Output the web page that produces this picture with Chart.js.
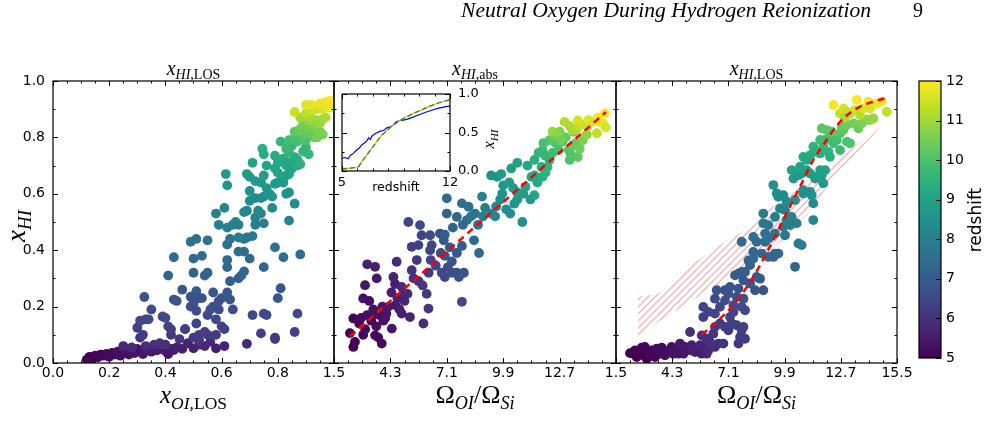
<!DOCTYPE html>
<html>
<head>
<meta charset="utf-8">
<script src="https://cdn.jsdelivr.net/npm/chart.js@4.4.0/dist/chart.umd.min.js"></script>
<style>
  body { margin: 0; background: #fff; }
  #wrap { position: relative; width: 1000px; height: 440px; }
  #wrap canvas { position: absolute; left: 0; top: 0; }
</style>
</head>
<body>
<div id="wrap">
  <canvas id="p1" width="1000" height="440"></canvas>
  <canvas id="p2" width="1000" height="440"></canvas>
  <canvas id="p3" width="1000" height="440"></canvas>
  <canvas id="inset" width="1000" height="440"></canvas>
  <canvas id="cbar" width="1000" height="440"></canvas>
</div>
<script>
// ---- data ----
// each point: [x, x_HI, redshift]
const losPts = [
  [0.12,0.012,5.0],[0.13,0.022,5.0],[0.14,0.016,5.0],[0.15,0.026,5.1],[0.16,0.02,5.1],[0.17,0.03,5.1],[0.18,0.026,5.1],[0.19,0.032,5.2],[0.20,0.022,5.2],[0.21,0.036,5.2],[0.22,0.03,5.2],[0.23,0.04,5.3],[0.24,0.026,5.3],[0.25,0.036,5.3],[0.26,0.045,5.4],[0.27,0.03,5.3],[0.28,0.04,5.4],[0.29,0.035,5.4],[0.30,0.05,5.5],[0.31,0.04,5.4],[0.32,0.032,5.4],[0.33,0.045,5.5],[0.34,0.05,5.5],[0.35,0.04,5.5],[0.36,0.055,5.6],[0.37,0.045,5.5],[0.38,0.05,5.6],[0.40,0.042,5.5],[0.41,0.032,5.4],[0.42,0.05,5.6],[0.43,0.046,5.5],[0.44,0.055,5.6],[0.46,0.05,5.6],[0.48,0.07,5.7],[0.50,0.052,5.6],[0.52,0.065,5.7],[0.54,0.06,5.7],[0.56,0.075,5.8],[0.58,0.052,5.6],[0.61,0.06,5.7],[0.69,0.068,5.8],
  [0.25,0.06,5.8],[0.28,0.055,5.8],[0.31,0.09,6.0],[0.33,0.06,5.9],[0.36,0.065,5.9],[0.38,0.07,6.0],[0.40,0.065,6.0],[0.42,0.10,6.1],[0.45,0.085,6.1],[0.47,0.12,6.2],[0.50,0.09,6.1],[0.52,0.08,6.1],[0.55,0.10,6.2],[0.58,0.10,6.2],
  [0.30,0.125,6.3],[0.31,0.15,6.4],[0.33,0.155,6.4],[0.34,0.155,6.5],[0.35,0.19,6.6],[0.325,0.234,6.8],[0.32,0.10,6.2],
  [0.39,0.165,6.5],[0.40,0.16,6.5],[0.41,0.13,6.4],[0.42,0.12,6.3],[0.43,0.225,6.8],[0.44,0.22,6.8],[0.41,0.31,7.2],
  [0.46,0.26,6.9],[0.47,0.12,6.3],[0.49,0.20,6.7],[0.49,0.235,6.8],[0.50,0.21,6.7],[0.51,0.255,6.9],[0.52,0.23,6.8],[0.53,0.23,6.8],[0.51,0.185,6.6],[0.51,0.14,6.4],[0.52,0.10,6.2],
  [0.54,0.11,6.3],[0.55,0.17,6.5],[0.56,0.19,6.6],[0.57,0.20,6.7],[0.57,0.25,6.9],[0.58,0.155,6.5],[0.59,0.22,6.7],[0.60,0.23,6.8],[0.60,0.13,6.4],[0.61,0.12,6.3],[0.59,0.19,6.6],
  [0.62,0.25,6.9],[0.63,0.225,6.8],[0.64,0.19,6.6],
  [0.71,0.17,6.5],[0.74,0.105,6.3],[0.75,0.175,6.6],[0.76,0.17,6.5],[0.79,0.085,6.2],[0.79,0.09,6.2],[0.80,0.23,6.8],[0.81,0.265,6.9],[0.86,0.11,6.3],[0.87,0.175,6.5],
  [0.43,0.375,7.5],[0.50,0.37,7.4],[0.49,0.43,7.7],[0.51,0.44,7.7],[0.50,0.32,7.2],[0.53,0.38,7.5],[0.54,0.31,7.2],[0.55,0.32,7.2],[0.55,0.435,7.7],[0.63,0.29,7.1],[0.62,0.34,7.3],[0.62,0.365,7.4],[0.62,0.42,7.6],[0.63,0.44,7.7],[0.66,0.30,7.1],[0.67,0.31,7.2],[0.68,0.325,7.3],[0.66,0.395,7.5],[0.68,0.395,7.5],[0.70,0.37,7.4],[0.68,0.44,7.7],[0.69,0.445,7.7],[0.71,0.45,7.8],[0.75,0.34,7.3],[0.79,0.41,7.6],[0.82,0.375,7.5],[0.88,0.385,7.5],
  [0.58,0.53,8.1],[0.59,0.49,8.0],[0.61,0.55,8.2],[0.62,0.48,8.0],[0.64,0.49,8.0],[0.65,0.50,8.1],[0.66,0.49,8.0],[0.66,0.445,7.9],[0.68,0.535,8.2],[0.69,0.54,8.2],[0.70,0.575,8.3],[0.72,0.515,8.1],[0.72,0.49,8.0],[0.73,0.54,8.2],[0.74,0.53,8.2],[0.75,0.495,8.0],[0.72,0.585,8.3],[0.74,0.585,8.4],[0.75,0.59,8.4],[0.78,0.55,8.3],[0.83,0.60,8.5],[0.84,0.605,8.5],[0.86,0.565,8.4],[0.84,0.505,8.2],[0.70,0.61,8.5],
  [0.615,0.67,8.8],[0.62,0.63,8.6],[0.69,0.67,8.8],[0.71,0.71,9.0],[0.70,0.66,8.8],[0.72,0.645,8.8],[0.74,0.64,8.7],[0.75,0.665,8.9],[0.76,0.62,8.7],[0.77,0.60,8.6],[0.78,0.59,8.6],[0.79,0.635,8.8],[0.80,0.64,8.8],[0.81,0.645,8.8],[0.82,0.64,8.8],[0.83,0.665,9.0],[0.84,0.67,9.0],[0.80,0.675,9.0],[0.79,0.69,9.1],[0.75,0.74,9.3],[0.76,0.70,9.1],[0.745,0.76,9.4],[0.79,0.735,9.3],[0.80,0.71,9.2],[0.82,0.725,9.3],[0.83,0.70,9.2],[0.84,0.71,9.2],[0.85,0.69,9.1],[0.86,0.73,9.4],[0.87,0.72,9.3],[0.87,0.70,9.3],[0.88,0.705,9.4],[0.81,0.785,9.6],[0.84,0.745,9.5],[0.85,0.77,9.6],[0.91,0.74,9.6],[0.90,0.765,9.7],[0.89,0.75,9.6],
  [0.83,0.76,9.7],[0.84,0.79,9.8],[0.86,0.80,10.0],[0.87,0.785,9.9],[0.89,0.80,10.1],[0.90,0.79,10.0],[0.86,0.82,10.2],[0.88,0.83,10.4],[0.89,0.845,10.5],[0.90,0.815,10.3],[0.91,0.83,10.5],[0.92,0.82,10.4],[0.93,0.80,10.3],[0.94,0.80,10.5],[0.95,0.82,10.6],[0.96,0.81,10.6],[0.93,0.84,10.7],[0.94,0.86,10.8],[0.95,0.85,10.9],[0.96,0.865,11.0],[0.97,0.87,11.1],[0.91,0.86,10.9],[0.92,0.87,11.0],[0.88,0.87,11.0],[0.90,0.885,11.3],[0.92,0.895,11.4],[0.94,0.90,11.5],[0.96,0.90,11.6],[0.97,0.91,11.7],[0.98,0.92,11.9],[0.985,0.93,12.0],[0.97,0.925,11.9],[0.95,0.92,11.8],[0.92,0.915,11.8],[0.90,0.915,11.7],[0.86,0.89,11.4],[0.985,0.905,11.8]
];

const absPts = [
  [2.46,0.057,5.0],[2.54,0.075,5.0],[2.29,0.106,5.0],[2.46,0.158,5.1],[2.75,0.14,5.1],[2.85,0.16,5.2],[2.95,0.10,5.1],[2.95,0.229,5.3],[3.04,0.276,5.4],[3.05,0.12,5.2],[3.15,0.17,5.3],[3.15,0.35,5.6],[3.25,0.22,5.3],[3.35,0.15,5.2],[3.45,0.19,5.3],[3.54,0.341,5.6],[3.62,0.30,5.5],[3.54,0.098,5.2],[3.55,0.175,5.3],[3.6,0.13,5.2],[3.7,0.09,5.2],[3.75,0.17,5.3],[3.87,0.069,5.2],[3.9,0.20,5.4],[3.95,0.15,5.3],[4.05,0.16,5.4],[4.1,0.175,5.4],[4.2,0.20,5.5],[4.37,0.122,5.4],[4.35,0.25,5.6],[4.45,0.305,5.7],[4.53,0.28,5.6],[4.55,0.205,5.5],[4.61,0.359,5.8],[4.65,0.23,5.6],[4.75,0.19,5.6],[4.86,0.175,5.6],[4.86,0.27,5.8],[4.95,0.246,5.8],[5.0,0.22,5.7],[5.15,0.245,5.8],[5.27,0.163,5.7],[5.36,0.329,6.0],[5.45,0.30,6.0],[5.61,0.365,6.1],[5.7,0.29,6.0],[5.94,0.14,5.9],[6.19,0.193,6.1],
  [5.19,0.50,6.4],[5.77,0.489,6.5],[5.36,0.412,6.2],[5.69,0.418,6.3],[5.85,0.453,6.4],[6.27,0.453,6.6],[6.35,0.418,6.5],[6.27,0.40,6.4],[6.76,0.459,6.7],[6.55,0.345,6.4],[6.3,0.365,6.4],[6.2,0.32,6.2],[5.9,0.275,6.1],[6.1,0.245,6.1],[6.85,0.32,6.5],[7.0,0.305,6.5],[7.15,0.34,6.6],[7.35,0.32,6.6],[6.8,0.39,6.6],[7.0,0.38,6.7],[7.35,0.36,6.8],[7.6,0.39,6.9],[7.85,0.415,7.0],[7.6,0.32,6.7],[7.7,0.305,6.7],[7.95,0.32,6.8],[7.85,0.217,6.5],[6.95,0.435,6.9],[7.25,0.41,6.9],[7.0,0.455,7.0],[7.10,0.53,7.2],[7.10,0.584,7.4],[7.60,0.518,7.3],[7.85,0.566,7.5],[8.10,0.507,7.4],[8.18,0.554,7.6],[8.45,0.435,7.4],[8.7,0.39,7.4],[8.3,0.52,7.6],[8.5,0.53,7.7],[8.65,0.49,7.7],[8.9,0.52,7.9],[9.0,0.55,8.0],[8.85,0.59,8.1],[7.4,0.48,7.2],[7.9,0.49,7.3],
  [9.3,0.53,8.1],[9.5,0.52,8.2],[9.55,0.555,8.3],[9.75,0.58,8.4],[9.85,0.60,8.5],[9.9,0.63,8.6],[9.6,0.66,8.6],[10.05,0.545,8.4],[10.25,0.53,8.4],[10.45,0.565,8.6],[10.6,0.58,8.7],[10.85,0.50,8.5],[10.4,0.62,8.7],[10.6,0.605,8.8],[10.9,0.60,8.9],[11.0,0.625,9.0],[11.25,0.58,8.9],[11.45,0.595,9.1],[11.3,0.66,9.2],[11.45,0.665,9.3],[11.6,0.64,9.2],[11.85,0.66,9.4],[12.0,0.675,9.5],[12.1,0.695,9.6],[11.8,0.695,9.4],[9.3,0.665,8.5],[9.8,0.67,8.7],[10.3,0.69,8.9],[10.6,0.71,9.0],[11.1,0.70,9.2],[10.2,0.64,8.7],
  [11.45,0.72,9.4],[11.65,0.745,9.6],[11.85,0.755,9.7],[12.0,0.735,9.6],[12.2,0.72,9.5],[12.35,0.745,9.8],[12.5,0.78,10.0],[12.65,0.755,9.9],[12.85,0.785,10.1],[13.0,0.80,10.3],[13.15,0.755,10.1],[13.35,0.77,10.3],[13.5,0.78,10.3],[13.6,0.73,10.2],[13.7,0.76,10.4],[13.85,0.79,10.6],[14.05,0.81,10.8],[13.2,0.72,10.0],[13.25,0.74,10.1],[12.2,0.79,10.2],[12.45,0.81,10.4],[11.9,0.78,9.9],[12.7,0.82,10.5],[13.4,0.82,10.6],
  [12.35,0.82,10.9],[12.6,0.815,10.8],[12.95,0.855,11.2],[13.2,0.84,11.1],[13.35,0.825,11.0],[13.55,0.83,11.2],[13.8,0.845,11.4],[14.1,0.84,11.4],[14.13,0.862,11.7],[14.3,0.855,11.6],[14.55,0.815,11.3],[14.7,0.855,11.8],[14.85,0.85,11.8],[15.0,0.835,11.6],[14.95,0.885,12.0],[14.6,0.87,12.0],[13.6,0.86,11.6],[12.75,0.79,10.5]
];

const los2Pts = [
  [2.20,0.035,5.0],[2.36,0.033,5.0],[2.45,0.045,5.0],[2.53,0.021,5.0],[2.70,0.039,5.0],[2.78,0.054,5.1],[2.86,0.027,5.0],[2.94,0.057,5.1],[3.03,0.015,5.0],[3.19,0.033,5.1],[3.28,0.045,5.1],[3.36,0.033,5.1],[3.44,0.021,5.1],[3.53,0.051,5.2],[3.69,0.033,5.2],[3.78,0.054,5.2],[3.86,0.045,5.2],[3.94,0.027,5.2],[4.11,0.039,5.3],[4.19,0.045,5.3],[4.27,0.057,5.3],[4.36,0.033,5.3],[4.52,0.045,5.4],[4.61,0.033,5.4],[4.69,0.051,5.4],[4.69,0.069,5.5],[4.86,0.033,5.4],[4.94,0.057,5.5],[5.02,0.051,5.5],[5.19,0.045,5.5],[5.27,0.063,5.6],[5.35,0.054,5.6],[5.44,0.039,5.6],[5.60,0.051,5.6],[5.69,0.063,5.7],[5.77,0.033,5.6],[5.93,0.057,5.7],[6.02,0.033,5.7],[6.10,0.045,5.8],[6.27,0.063,5.8],[6.43,0.057,5.9],[6.60,0.069,5.9],[5.19,0.11,6.0],
  [5.77,0.098,6.0],[6.02,0.086,6.0],[6.35,0.104,6.1],[6.18,0.075,6.0],[6.43,0.128,6.2],[6.68,0.14,6.2],[6.93,0.128,6.2],[7.10,0.116,6.2],[7.18,0.163,6.4],[7.35,0.181,6.4],[7.26,0.14,6.3],[7.51,0.134,6.3],[7.76,0.116,6.3],[7.85,0.128,6.3],[7.93,0.086,6.2],[7.60,0.069,6.1],[6.85,0.069,6.0],[7.68,0.092,6.2],[5.85,0.199,6.4],[5.85,0.163,6.3],[6.10,0.181,6.4],[6.43,0.175,6.4],[6.43,0.228,6.6],[6.68,0.199,6.5],[6.93,0.222,6.6],[6.93,0.258,6.7],[7.18,0.27,6.8],[7.10,0.246,6.7],[7.51,0.234,6.7],[7.85,0.228,6.7],[7.76,0.199,6.6],[7.93,0.187,6.5],[7.35,0.205,6.6],[7.60,0.264,6.8],[6.52,0.258,6.7],
  [7.43,0.311,7.0],[7.60,0.317,7.0],[7.76,0.323,7.0],[7.93,0.323,7.1],[7.85,0.293,6.9],[8.18,0.282,6.9],[8.43,0.258,6.8],[8.84,0.258,6.8],[8.68,0.299,7.0],[8.51,0.305,7.0],[8.18,0.347,7.2],[8.10,0.364,7.2],[7.76,0.43,7.5],[8.34,0.394,7.3],[8.34,0.37,7.3],[8.76,0.388,7.3],[9.09,0.376,7.3],[9.42,0.388,7.4],[9.59,0.388,7.4],[9.34,0.376,7.3],[10.42,0.341,7.3],[8.93,0.43,7.5],[8.93,0.459,7.6],[9.09,0.441,7.6],[9.42,0.459,7.7],[9.09,0.489,7.8],[8.84,0.495,7.8],[8.34,0.447,7.6],[8.84,0.53,7.9],[8.51,0.43,7.5],
  [9.42,0.518,8.0],[9.84,0.483,7.9],[9.92,0.453,7.8],[9.67,0.548,8.1],[9.92,0.542,8.1],[10.0,0.507,8.0],[10.25,0.518,8.1],[10.50,0.495,8.0],[10.17,0.489,8.0],[10.59,0.424,7.9],[10.75,0.418,7.9],[9.51,0.601,8.4],[9.59,0.589,8.3],[9.84,0.595,8.4],[9.34,0.631,8.5],[10.0,0.572,8.3],[10.42,0.578,8.4],[10.83,0.601,8.5],[10.83,0.613,8.5],[11.17,0.607,8.6],[11.25,0.595,8.5],[11.33,0.566,8.4],[11.33,0.507,8.2],[10.34,0.654,8.7],[10.59,0.666,8.8],[10.75,0.672,8.8],[11.0,0.684,8.9],[11.17,0.672,8.9],[11.42,0.654,8.8],[11.50,0.66,8.8],[11.75,0.666,8.9],[11.83,0.637,8.7],[11.67,0.684,9.0],[11.92,0.684,9.0],
  [10.25,0.684,9.0],[10.67,0.696,9.1],[10.83,0.731,9.3],[11.0,0.72,9.2],[11.17,0.737,9.3],[11.33,0.767,9.5],[11.50,0.749,9.4],[11.67,0.743,9.4],[11.83,0.767,9.6],[12.08,0.749,9.5],[12.16,0.731,9.4],[11.67,0.791,9.8],[11.92,0.791,9.8],[12.16,0.802,9.9],[12.33,0.779,9.8],[12.50,0.791,9.9],[12.66,0.814,10.1],[12.83,0.826,10.2],[13.0,0.785,10.0],[13.16,0.779,10.0],[12.66,0.755,9.7],[11.75,0.832,10.2],[12.0,0.826,10.2],[12.25,0.82,10.2],[12.75,0.838,10.3],[13.0,0.844,10.4],[13.33,0.85,10.5],[13.58,0.832,10.4],[13.74,0.85,10.6],[13.99,0.862,10.7],[14.16,0.862,10.8],[14.32,0.867,10.9],
  [12.33,0.915,11.9],[12.66,0.885,11.3],[12.83,0.903,11.6],[13.0,0.891,11.4],[13.16,0.885,11.3],[13.41,0.897,11.5],[13.49,0.933,12.0],[13.66,0.879,11.2],[13.82,0.903,11.6],[14.07,0.927,11.9],[14.16,0.903,11.6],[14.49,0.92,11.8],[14.74,0.927,11.9],[14.99,0.891,11.4],[12.9,0.87,11.1]
];

// fitted relations (red dashed)
const fitAbsX = [2.3, 15.0];
const fitAbsY = [0.095, 0.89];
const fitLosX = [5.77, 6.68, 7.51, 8.34, 9.0, 9.67, 10.25, 10.75, 11.33, 11.83, 12.33, 12.83, 13.5, 14.32, 15.0];
const fitLosY = [0.10, 0.157, 0.22, 0.305, 0.39, 0.483, 0.566, 0.637, 0.72, 0.773, 0.826, 0.867, 0.903, 0.927, 0.94];

// hatched band in the right panel
const bandX = [2.6, 3.69, 4.69, 5.7, 6.68, 7.68, 8.82, 10.02, 11.17, 12.2, 13.16, 14.6];
const bandHi = [0.235, 0.25, 0.318, 0.37, 0.418, 0.46, 0.531, 0.588, 0.649, 0.705, 0.755, 0.845];
const bandLo = [0.09, 0.15, 0.195, 0.24, 0.28, 0.33, 0.38, 0.45, 0.54, 0.64, 0.72, 0.83];

// inset: x_HI against redshift
const zLos = [5, 5.22, 5.39, 5.54, 5.75, 5.97, 6.12, 6.29, 6.46, 6.62, 6.72, 6.83, 6.94, 7.11, 7.26, 7.48, 7.69, 7.91, 8.06, 8.23, 8.40, 8.51, 8.66, 8.88, 9.2, 9.52, 9.95, 10.38, 10.82, 11.25, 11.68, 12];
const xhiLos = [0.167, 0.175, 0.158, 0.202, 0.232, 0.276, 0.298, 0.342, 0.364, 0.395, 0.43, 0.408, 0.452, 0.482, 0.496, 0.518, 0.526, 0.561, 0.57, 0.583, 0.614, 0.64, 0.649, 0.658, 0.671, 0.693, 0.728, 0.759, 0.789, 0.816, 0.833, 0.846];
const zMean = [5, 5.43, 5.86, 6.08, 6.29, 6.62, 6.94, 7.26, 7.58, 7.91, 8.23, 8.55, 8.88, 9.31, 9.74, 10.17, 10.6, 11.03, 11.46, 12];
const xhiMean = [0.026, 0.035, 0.044, 0.057, 0.123, 0.211, 0.298, 0.386, 0.465, 0.526, 0.583, 0.627, 0.671, 0.715, 0.759, 0.794, 0.833, 0.868, 0.899, 0.925];

// ticks
const hiTicks = [0, 0.2, 0.4, 0.6, 0.8, 1.0];
const oiTicks = [0, 0.2, 0.4, 0.6, 0.8];
const ratioTicks2 = [1.5, 4.3, 7.1, 9.9, 12.7];
const ratioTicks3 = [1.5, 4.3, 7.1, 9.9, 12.7, 15.5];
const insetXTicks = [5, 12];
const insetYTicks = [0, 0.5, 1.0];
const cbarTicks = [5, 6, 7, 8, 9, 10, 11, 12];
const zMin = 5, zMax = 12;

// ---- helpers ----
const W = 1000, H = 440;
const viridisStops = [[68,1,84],[72,36,117],[65,68,135],[53,95,141],[42,120,142],[33,145,140],[34,168,132],[68,191,112],[122,209,81],[189,223,38],[253,231,37]];
function viridis(t) {
  t = Math.max(0, Math.min(1, t));
  const n = viridisStops.length - 1, f = t * n, i = Math.min(Math.floor(f), n - 1), u = f - i;
  const a = viridisStops[i], b = viridisStops[i + 1];
  return 'rgb(' + [0, 1, 2].map(k => Math.round(a[k] + (b[k] - a[k]) * u)).join(',') + ')';
}
const zColor = c => c.raw ? viridis((c.raw.z - zMin) / (zMax - zMin)) : '#000';
const pts = arr => arr.map(p => ({ x: p[0], y: p[1], z: p[2] }));
const xy = (xs, ys) => xs.map((x, i) => ({ x: x, y: ys[i] }));

function pad(area, yW, xH, yRight) {
  return {
    left: area[0] - (yRight ? 0 : yW), top: area[1],
    right: W - area[2] - (yRight ? yW : 0), bottom: H - area[3] - xH
  };
}

function axis(o) {
  return {
    type: 'linear', min: o.min, max: o.max, display: o.display !== false, position: o.position,
    afterBuildTicks: s => { s.ticks = o.ticks.map(v => ({ value: v })); },
    afterFit: s => {
      if (o.size == null) return;
      if (s.isHorizontal()) s.height = o.size; else s.width = o.size;
    },
    grid: { display: false, drawTicks: false }, border: { display: false },
    ticks: {
      autoSkip: false, maxRotation: 0, padding: o.pad || 0, color: '#000',
      font: { family: 'DejaVu Sans', size: o.font || 14 }, callback: o.fmt
    }
  };
}

function mathText(ctx, x, y, parts, size) {
  const sub = size * 0.7, drop = size * 0.22;
  const fontOf = s => (s.endsWith('i') ? 'italic ' : '') + (s[0] === 's' ? sub : size) + 'px "Liberation Serif"';
  let w = 0;
  parts.forEach(p => { ctx.font = fontOf(p[1]); w += ctx.measureText(p[0]).width; });
  let cx = x - w / 2;
  ctx.fillStyle = '#000'; ctx.textAlign = 'left'; ctx.textBaseline = 'alphabetic';
  parts.forEach(p => {
    ctx.font = fontOf(p[1]);
    ctx.fillText(p[0], cx, y + (p[1][0] === 's' ? drop : 0));
    cx += ctx.measureText(p[0]).width;
  });
}

// inward tick marks + frame, like the classic matplotlib axes
const axesBox = {
  id: 'axesBox',
  afterDraw(chart, args, o) {
    if (!o || !o.on) return;
    const ctx = chart.ctx, a = chart.chartArea, xs = chart.scales.x, ys = chart.scales.y;
    const steps = (s, st) => { const r = []; for (let v = s.min; v <= s.max + 1e-9; v += st) r.push(v); return r; };
    ctx.save();
    ctx.strokeStyle = '#000'; ctx.lineWidth = 1;
    ctx.beginPath();
    const markX = (vals, len) => vals.forEach(v => {
      const p = Math.round(xs.getPixelForValue(v)) + 0.5;
      ctx.moveTo(p, a.bottom); ctx.lineTo(p, a.bottom - len);
      ctx.moveTo(p, a.top); ctx.lineTo(p, a.top + len);
    });
    const markY = (vals, len) => vals.forEach(v => {
      const p = Math.round(ys.getPixelForValue(v)) + 0.5;
      if (o.left !== false) { ctx.moveTo(a.left, p); ctx.lineTo(a.left + len, p); }
      ctx.moveTo(a.right, p); ctx.lineTo(a.right - len, p);
    });
    if (o.xMajor) markX(o.xMajor, 5);
    if (o.xMinor) markX(steps(xs, o.xMinor), 2.5);
    if (o.yMajor) markY(o.yMajor, 5);
    if (o.yMinor) markY(steps(ys, o.yMinor), 2.5);
    ctx.stroke();
    ctx.lineWidth = 1.2;
    ctx.strokeRect(a.left, a.top, a.right - a.left, a.bottom - a.top);
    ctx.restore();
  }
};
Chart.register(axesBox);

function hatch() {
  const c = document.createElement('canvas');
  c.width = c.height = 7;
  const g = c.getContext('2d');
  g.strokeStyle = '#f6b2b2'; g.lineWidth = 1.3;
  g.beginPath();
  g.moveTo(0, 7); g.lineTo(7, 0);
  g.moveTo(-1, 1); g.lineTo(1, -1);
  g.moveTo(6, 8); g.lineTo(8, 6);
  g.stroke();
  return g.createPattern(c, 'repeat');
}

const base = {
  responsive: false, animation: false, events: [],
  plugins: { legend: { display: false }, tooltip: { enabled: false } }
};
const dot = { pointRadius: 4.9, pointBorderWidth: 0, backgroundColor: zColor, borderWidth: 0 };
const f1 = v => v.toFixed(1);

// ---- left panel ----
new Chart(document.getElementById('p1'), {
  type: 'scatter',
  data: { datasets: [Object.assign({ data: pts(losPts) }, dot)] },
  options: Object.assign({}, base, {
    layout: { padding: pad([53, 81, 334, 363], 40, 30, false) },
    scales: {
      x: axis({ min: 0, max: 1, ticks: oiTicks, size: 30, pad: 2, fmt: f1 }),
      y: axis({ min: 0, max: 1, ticks: hiTicks, size: 40, pad: 8, fmt: f1, position: 'left' })
    },
    plugins: Object.assign({}, base.plugins, {
      axesBox: { on: true, xMajor: [0, 0.2, 0.4, 0.6, 0.8, 1.0], xMinor: 0.05, yMajor: hiTicks, yMinor: 0.1 }
    })
  }),
  plugins: [{
    id: 'txt1',
    afterDraw(chart) {
      const ctx = chart.ctx, a = chart.chartArea, cx = (a.left + a.right) / 2;
      mathText(ctx, cx, 75, [['x', 'i'], ['HI,', 'si'], ['LOS', 'sr']], 20);
      mathText(ctx, cx, 403, [['x', 'i'], ['OI,', 'si'], ['LOS', 'sr']], 25);
      ctx.save(); ctx.translate(25, 226); ctx.rotate(-Math.PI / 2);
      mathText(ctx, 0, 0, [['x', 'i'], ['HI', 'si']], 27);
      ctx.restore();
    }
  }]
});

// ---- middle panel ----
new Chart(document.getElementById('p2'), {
  type: 'scatter',
  data: {
    datasets: [
      { type: 'line', data: xy(fitAbsX, fitAbsY), borderColor: '#ff0000', borderWidth: 2.5, borderDash: [7, 5], pointRadius: 0, fill: false },
      Object.assign({ data: pts(absPts) }, dot)
    ]
  },
  options: Object.assign({}, base, {
    layout: { padding: pad([334, 81, 616, 363], 0, 30, false) },
    scales: {
      x: axis({ min: 1.5, max: 15.5, ticks: ratioTicks2, size: 30, pad: 2, fmt: f1 }),
      y: axis({ min: 0, max: 1, ticks: hiTicks, display: false })
    },
    plugins: Object.assign({}, base.plugins, {
      axesBox: { on: true, xMajor: ratioTicks3, xMinor: 0.7, yMajor: hiTicks, yMinor: 0.1 }
    })
  }),
  plugins: [{
    id: 'txt2',
    afterDraw(chart) {
      const ctx = chart.ctx, a = chart.chartArea, cx = (a.left + a.right) / 2;
      mathText(ctx, cx, 75, [['x', 'i'], ['HI,', 'si'], ['abs', 'sr']], 20);
      mathText(ctx, cx, 403, [['Ω', 'r'], ['OI', 'si'], ['/', 'r'], ['Ω', 'r'], ['Si', 'si']], 26);
    }
  }]
});

// ---- right panel ----
new Chart(document.getElementById('p3'), {
  type: 'scatter',
  data: {
    datasets: [
      { type: 'line', data: xy(fitLosX, fitLosY), borderColor: '#ff0000', borderWidth: 2.5, borderDash: [7, 5], pointRadius: 0, fill: false, cubicInterpolationMode: 'monotone' },
      Object.assign({ data: pts(los2Pts) }, dot),
      { type: 'line', data: xy(bandX, bandHi), borderWidth: 0, borderColor: 'rgba(0,0,0,0)', pointRadius: 0, fill: '+1', backgroundColor: hatch(), tension: 0.2 },
      { type: 'line', data: xy(bandX, bandLo), borderWidth: 0, borderColor: 'rgba(0,0,0,0)', pointRadius: 0, fill: false, tension: 0.2 }
    ]
  },
  options: Object.assign({}, base, {
    layout: { padding: pad([616, 81, 897, 363], 0, 30, false) },
    scales: {
      x: axis({ min: 1.5, max: 15.5, ticks: ratioTicks3, size: 30, pad: 2, fmt: f1 }),
      y: axis({ min: 0, max: 1, ticks: hiTicks, display: false })
    },
    plugins: Object.assign({}, base.plugins, {
      axesBox: { on: true, xMajor: ratioTicks3, xMinor: 0.7, yMajor: hiTicks, yMinor: 0.1 }
    })
  }),
  plugins: [{
    id: 'txt3',
    afterDraw(chart) {
      const ctx = chart.ctx, a = chart.chartArea, cx = (a.left + a.right) / 2;
      mathText(ctx, cx, 75, [['x', 'i'], ['HI,', 'si'], ['LOS', 'sr']], 20);
      mathText(ctx, cx, 403, [['Ω', 'r'], ['OI', 'si'], ['/', 'r'], ['Ω', 'r'], ['Si', 'si']], 26);
    }
  }]
});

// ---- inset ----
new Chart(document.getElementById('inset'), {
  type: 'line',
  data: {
    datasets: [
      { data: xy(zMean, xhiMean), borderColor: '#2e8b22', borderWidth: 1.3, borderDash: [5, 3], pointRadius: 0, fill: false },
      { data: xy(zMean, xhiMean), borderColor: '#cccc2a', borderWidth: 1.3, pointRadius: 0, fill: false },
      { data: xy(zLos, xhiLos), borderColor: '#0000ff', borderWidth: 1.2, pointRadius: 0, fill: false }
    ]
  },
  options: Object.assign({}, base, {
    layout: { padding: pad([342, 94, 450, 171], 40, 20, true) },
    scales: {
      x: axis({ min: 5, max: 12, ticks: insetXTicks, size: 20, pad: 4, font: 13, fmt: v => String(v) }),
      y: axis({ min: 0, max: 1, ticks: insetYTicks, size: 40, pad: 8, font: 13, fmt: f1, position: 'right' })
    },
    plugins: Object.assign({}, base.plugins, {
      axesBox: { on: true, xMajor: insetXTicks, xMinor: 1, yMajor: insetYTicks, yMinor: 0.25 }
    })
  }),
  plugins: [{
    id: 'insetTxt',
    beforeDatasetsDraw(chart) {
      const a = chart.chartArea;
      chart.ctx.save(); chart.ctx.fillStyle = '#fff';
      chart.ctx.fillRect(a.left, a.top, a.right - a.left, a.bottom - a.top);
      chart.ctx.restore();
    },
    afterDraw(chart) {
      const ctx = chart.ctx, a = chart.chartArea;
      ctx.save();
      ctx.fillStyle = '#000'; ctx.font = '12.5px "DejaVu Sans"';
      ctx.textAlign = 'center'; ctx.textBaseline = 'middle';
      ctx.fillText('redshift', (a.left + a.right) / 2, 188);
      ctx.translate(494, 139); ctx.rotate(-Math.PI / 2);
      mathText(ctx, 0, 0, [['x', 'i'], ['HI', 'si']], 16);
      ctx.restore();
    }
  }]
});

// ---- colour bar + page header ----
new Chart(document.getElementById('cbar'), {
  type: 'scatter',
  data: { datasets: [] },
  options: Object.assign({}, base, {
    layout: { padding: pad([919, 81, 941, 358], 30, 0, true) },
    scales: {
      x: axis({ min: 0, max: 1, ticks: [], display: false }),
      y: axis({ min: zMin, max: zMax, ticks: cbarTicks, size: 30, pad: 5, fmt: v => String(v), position: 'right' })
    },
    plugins: Object.assign({}, base.plugins, {
      axesBox: { on: true, yMajor: cbarTicks, left: false }
    })
  }),
  plugins: [{
    id: 'cbarTxt',
    beforeDraw(chart) {
      const ctx = chart.ctx, a = chart.chartArea;
      const g = ctx.createLinearGradient(0, a.bottom, 0, a.top);
      viridisStops.forEach((c, i) => g.addColorStop(i / (viridisStops.length - 1), 'rgb(' + c.join(',') + ')'));
      ctx.save(); ctx.fillStyle = g;
      ctx.fillRect(a.left, a.top, a.right - a.left, a.bottom - a.top);
      ctx.restore();
    },
    afterDraw(chart) {
      const ctx = chart.ctx;
      ctx.save();
      ctx.fillStyle = '#000'; ctx.font = '17px "DejaVu Sans"';
      ctx.textAlign = 'center'; ctx.textBaseline = 'middle';
      ctx.translate(977, 220); ctx.rotate(-Math.PI / 2);
      ctx.fillText('redshift', 0, 0);
      ctx.restore();

      const head = 'Neutral Oxygen During Hydrogen Reionization';
      ctx.save();
      ctx.fillStyle = '#000'; ctx.textAlign = 'left'; ctx.textBaseline = 'alphabetic';
      ctx.font = 'italic 20px "Liberation Serif"';
      const w = ctx.measureText(head).width;
      ctx.translate(461, 17); ctx.scale(410 / w, 1);
      ctx.fillText(head, 0, 0);
      ctx.restore();
      ctx.save();
      ctx.font = '20px "Liberation Serif"'; ctx.fillStyle = '#000';
      ctx.fillText('9', 913, 17);
      ctx.restore();
    }
  }]
});
</script>
</body>
</html>
